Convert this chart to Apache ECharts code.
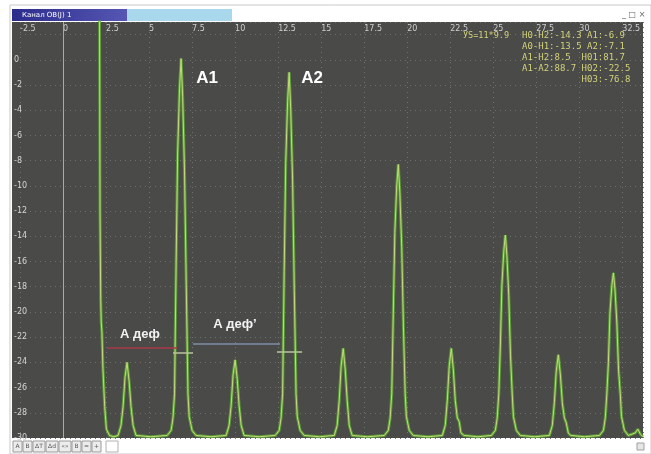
<!DOCTYPE html>
<html>
<head>
<meta charset="utf-8">
<script src="https://cdn.jsdelivr.net/npm/echarts@6/dist/echarts.min.js"></script>
<style>
html,body{margin:0;padding:0;background:#fff;}
#chart{width:651px;height:454px;}
</style>
</head>
<body>
<div id="chart"></div>
<script>
// A-scan: pairs [x, dB]
var pulseStart = [[2.12,4],[2.15,-12],[2.19,-19],[2.22,-20.8],[2.26,-21.6],[2.32,-24.5],[2.42,-27.5],[2.52,-29.3],[2.7,-29.8],[2.95,-29.9]];
var echo1 = [[3.2,-29.8],[3.37,-29.0],[3.49,-27.5],[3.6,-25.2],[3.72,-24.0],[3.84,-25.5],[3.95,-27.5],[4.07,-29.0],[4.24,-29.8],[5.1,-29.9]];
var peakA1 = [[6.05,-29.8],[6.28,-29.4],[6.39,-28.4],[6.48,-26.5],[6.57,-16.3],[6.66,-7.4],[6.77,-2.3],[6.86,0.1],[6.95,-2.9],[7.06,-8.8],[7.16,-17.8],[7.26,-26.5],[7.33,-28.3],[7.5,-29.4],[7.73,-29.8],[8.6,-29.9]];
var echo2 = [[9.48,-29.8],[9.65,-29.0],[9.77,-27.4],[9.88,-25.0],[10.0,-23.8],[10.12,-25.3],[10.23,-27.4],[10.35,-29.0],[10.52,-29.8],[11.4,-29.9]];
var peakA2 = [[12.33,-29.8],[12.56,-29.4],[12.67,-28.4],[12.76,-26.5],[12.85,-16.8],[12.94,-8.2],[13.05,-3.3],[13.14,-1.0],[13.23,-3.9],[13.34,-9.6],[13.44,-18.3],[13.54,-26.5],[13.61,-28.3],[13.78,-29.4],[14.01,-29.8],[14.9,-29.9]];
var echo3 = [[15.76,-29.8],[15.93,-29.0],[16.05,-27.0],[16.16,-24.3],[16.28,-22.9],[16.4,-24.6],[16.51,-27.0],[16.63,-29.0],[16.8,-29.8],[17.7,-29.9]];
var peak3 = [[18.67,-29.8],[18.9,-29.4],[19.01,-28.4],[19.1,-26.5],[19.19,-20.1],[19.28,-13.7],[19.39,-10.0],[19.48,-8.3],[19.57,-10.5],[19.68,-14.8],[19.78,-21.2],[19.88,-26.5],[19.95,-28.3],[20.12,-29.4],[20.35,-29.8],[21.2,-29.9]];
var echo4 = [[22.04,-29.8],[22.21,-29.0],[22.33,-27.0],[22.44,-24.3],[22.56,-22.9],[22.68,-24.6],[22.79,-27.0],[22.91,-28.4],[23.02,-28.7],[23.12,-29.6],[23.3,-29.8],[24.1,-29.9]];
var peak4 = [[24.89,-29.8],[25.12,-29.4],[25.23,-28.4],[25.32,-26.5],[25.41,-22.7],[25.5,-17.9],[25.61,-15.2],[25.7,-13.9],[25.79,-15.5],[25.9,-18.7],[26.0,-23.4],[26.1,-26.5],[26.17,-28.3],[26.34,-29.4],[26.57,-29.8],[27.4,-29.9]];
var echo5 = [[28.26,-29.8],[28.43,-29.0],[28.55,-27.2],[28.66,-24.7],[28.78,-23.4],[28.9,-25.0],[29.01,-27.2],[29.13,-28.4],[29.24,-28.8],[29.36,-29.6],[29.5,-29.8],[30.3,-29.9]];
var peak5 = [[31.17,-29.8],[31.4,-29.4],[31.51,-28.4],[31.6,-26.5],[31.69,-24.0],[31.78,-20.1],[31.89,-17.9],[31.98,-16.9],[32.07,-18.2],[32.18,-20.8],[32.28,-24.6],[32.38,-26.5],[32.45,-28.3],[32.62,-29.4],[32.85,-29.8],[33.25,-29.6],[33.4,-29.3],[33.55,-29.7],[33.7,-29.9]];

var signal = [].concat(pulseStart, echo1, peakA1, echo2, peakA2, echo3, peak3, echo4, peak4, echo5, peak5);

// gates: [x from, x to, level dB]
var gateDef = [2.56, 6.62, -22.86];
var gateDef2 = [7.55, 12.61, -22.54];
var gateA1 = [6.39, 7.55, -23.26];
var gateA2 = [12.43, 13.89, -23.18];
var zeroLine = 0;

// labels: [name, x, dB]
var peakLabels = [['A1', 8.37, -1.5], ['A2', 14.47, -1.5]];
var gateLabels = [['А деф', 4.47, -21.75], ['А деф’', 9.99, -20.96]];

var infoLines = ['H0-H2:-14.3 A1:-6.9', 'A0-H1:-13.5 A2:-7.1', 'A1-H2:8.5  H01:81.7', 'A1-A2:88.7 H02:-22.5', '           H03:-76.8'];
var infoLeft = 'УS=11*9.9';
var toolButtons = ['A', 'B', 'ΔT', 'Δd', '«»', 'B', '=', '+'];

var chart = echarts.init(document.getElementById('chart'));

var gfx = [
	{ type: 'rect', z: -10, shape: { x: 10, y: 5, width: 641, height: 449 }, style: { fill: '#ffffff', stroke: '#c9c9c9', lineWidth: 1 } },
	{ type: 'rect', z: -9, shape: { x: 12, y: 9, width: 115, height: 12 }, style: { fill: new echarts.graphic.LinearGradient(0, 0, 1, 0, [{ offset: 0, color: '#2c2c8c' }, { offset: 1, color: '#5656b4' }]) } },
	{ type: 'rect', z: -9, shape: { x: 127, y: 9, width: 105, height: 12 }, style: { fill: '#a9d8ec' } },
	{ type: 'text', z: -8, style: { x: 22, y: 15, text: 'Канал ОВ(J) 1', fill: '#ffffff', font: '7px "DejaVu Sans"', verticalAlign: 'middle' } },
	{ type: 'text', z: -8, style: { x: 622, y: 15, text: '_ □ ×', fill: '#666666', font: '8px "DejaVu Sans"', verticalAlign: 'middle' } },
	{ type: 'rect', z: -9, shape: { x: 12, y: 22, width: 631, height: 416 }, style: { fill: '#4a4a49' } },
	{ type: 'text', z: 5, style: { x: 463, y: 36, text: infoLeft, fill: '#d2d27a', font: '8.5px "DejaVu Sans Mono"', verticalAlign: 'middle' } }
];
infoLines.forEach(function (t, i) {
	gfx.push({ type: 'text', z: 5, style: { x: 522, y: 36 + i * 11, text: t, fill: '#d2d27a', font: '9px "DejaVu Sans Mono"', verticalAlign: 'middle' } });
});
var bx = 13;
toolButtons.forEach(function (t) {
	var w = t.length > 1 ? 12 : 9;
	gfx.push({ type: 'rect', z: -8, shape: { x: bx, y: 441, width: w, height: 11 }, style: { fill: '#ececec', stroke: '#9a9a9a', lineWidth: 1 } });
	gfx.push({ type: 'text', z: -7, style: { x: bx + w / 2, y: 446.5, text: t, fill: '#555555', font: '6px "DejaVu Sans"', align: 'center', verticalAlign: 'middle' } });
	bx += w + 1;
});
gfx.push({ type: 'rect', z: -8, shape: { x: bx + 4, y: 441, width: 12, height: 11 }, style: { fill: '#ffffff', stroke: '#b0b0b0', lineWidth: 1 } });
gfx.push({ type: 'rect', z: -8, shape: { x: 637, y: 443, width: 7, height: 7 }, style: { fill: '#e6e6e6', stroke: '#a0a0a0', lineWidth: 1 } });

function seg(g, color) {
	return [
		{ coord: [g[0], g[2]], lineStyle: { color: color, width: 1.5, type: 'solid' } },
		{ coord: [g[1], g[2]] }
	];
}

var option = {
	animation: false,
	backgroundColor: '#ffffff',
	graphic: gfx,
	grid: { left: 20, right: 8, top: 22, bottom: 16, outerBoundsMode: 'none' },
	xAxis: {
		type: 'value',
		position: 'top',
		min: -2.5,
		max: 33.7,
		interval: 2.5,
		axisLine: { show: false },
		axisTick: { show: false },
		axisLabel: {
			inside: true,
			margin: 3,
			align: 'left',
			color: '#cfcfcf',
			fontSize: 8,
			fontFamily: 'DejaVu Sans',
			showMaxLabel: false
		},
		splitLine: { show: true, lineStyle: { color: '#72726e', width: 1, type: [1, 4] } }
	},
	yAxis: {
		type: 'value',
		min: -30,
		max: 3,
		interval: 2,
		offset: 8,
		axisLine: { show: false },
		axisTick: { show: false },
		axisLabel: {
			inside: true,
			margin: 2,
			align: 'left',
			color: '#d4d4d4',
			fontSize: 8,
			fontFamily: 'DejaVu Sans',
			formatter: function (v) { return v > 0 ? '' : String(v); }
		},
		splitLine: { show: true, lineStyle: { color: '#6e6e6a', width: 1, type: [1, 4] } }
	},
	series: [
		{
			name: 'core',
			type: 'line',
			data: signal,
			showSymbol: false,
			silent: true,
			lineStyle: { color: '#5fb52e', width: 3, opacity: 0.7 },
			z: 3
		},
		{
			name: 'signal',
			type: 'line',
			data: signal,
			showSymbol: false,
			silent: true,
			lineStyle: { color: '#c2da7c', width: 1 },
			z: 4,
			markLine: {
				silent: true,
				symbol: ['none', 'none'],
				label: { show: false },
				data: [
					{ xAxis: zeroLine, lineStyle: { color: '#aab46a', width: 1, type: 'solid' } },
					seg(gateDef, '#a8384a'),
					seg(gateDef2, '#7f8fa6'),
					seg(gateA1, '#b8c49a'),
					seg(gateA2, '#b8c49a')
				]
			},
			markPoint: {
				silent: true,
				symbol: 'circle',
				symbolSize: 1,
				itemStyle: { color: 'rgba(0,0,0,0)' },
				label: { show: true, position: 'inside', formatter: '{b}', color: '#ffffff' },
				data: peakLabels.map(function (p) {
					return { name: p[0], coord: [p[1], p[2]], label: { fontSize: 17, fontWeight: 'bold', fontFamily: 'Liberation Sans' } };
				}).concat(gateLabels.map(function (p) {
					return { name: p[0], coord: [p[1], p[2]], label: { fontSize: 13, fontWeight: 600, fontFamily: 'Liberation Sans', color: '#f2f2f2' } };
				}))
			}
		}
	]
};

chart.setOption(option);
</script>
</body>
</html>
